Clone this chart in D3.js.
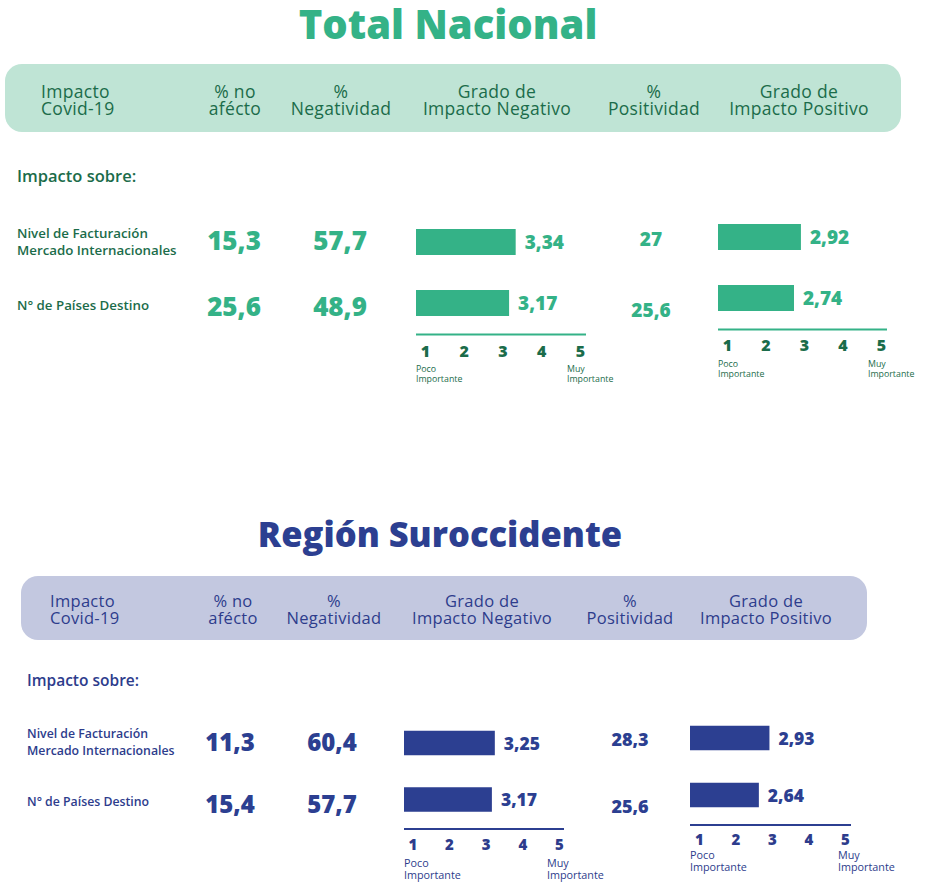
<!DOCTYPE html>
<html>
<head>
<meta charset="utf-8">
<script src="https://cdn.jsdelivr.net/npm/d3@7"></script>
<style>
body { margin: 0; background: #fff; }
text { font-family: "Open Sans", "Noto Sans", sans-serif; }
</style>
</head>
<body>
<div id="chart"></div>
<script>
// data
var firstHeader = ['Impacto', 'Covid-19'];
var headerLabels = [['% no', 'afécto'], ['%', 'Negatividad'], ['Grado de', 'Impacto Negativo'], ['%', 'Positividad'], ['Grado de', 'Impacto Positivo']];
var rowLabels = [['Nivel de Facturación', 'Mercado Internacionales'], ['N° de Países Destino']];
var gradeTicks = [1, 2, 3, 4, 5];
var gradeEnds = [['Poco', 'Importante'], ['Muy', 'Importante']];

var nacionalNoAfecto = [15.3, 25.6];
var nacionalNegatividad = [57.7, 48.9];
var nacionalGradoNeg = [3.34, 3.17];
var nacionalPositividad = [27, 25.6];
var nacionalGradoPos = [2.92, 2.74];

var regionNoAfecto = [11.3, 15.4];
var regionNegatividad = [60.4, 57.7];
var regionGradoNeg = [3.25, 3.17];
var regionPositividad = [28.3, 25.6];
var regionGradoPos = [2.93, 2.64];

var fmt = d3.formatLocale({decimal: ',', thousands: '.', grouping: [3], currency: ['$', '']}).format('~g');

var width = 925, height = 882;
var svg = d3.select('#chart').append('svg')
    .attr('width', width)
    .attr('height', height);

// layout of the two blocks
var sections = [
  {
    title: 'Total Nacional', titleX: 448, titleY: 39, titleSize: 40,
    main: '#34b287', text: '#1b6c4a', bg: '#bfe4d5',
    box: [5, 64, 896, 68], headY: [98, 115], headSize: 17.5, headX: [41, 235, 341, 497, 654, 799],
    sobreX: 17, sobreY: 182, sobreSize: 16.5,
    labelY: [238, 310], labelDy: 17, labelSize: 13.3,
    valX: [234, 340], valY: [250, 316], valSize: 26,
    negBarY: [242, 303], posBarY: [237, 298], barH: 26, barLabelSize: 19,
    pctX: 651, pctY: [246, 317], pctSize: 19,
    tickSize: 16,
    negAxis: {x0: 416, x1: 586, y: 334.5, t1: 425, t5: 580, tickY: 357, endY: 372, endSize: 8.8, muyX: 567},
    posAxis: {x0: 718, x1: 887, y: 329.5, t1: 727, t5: 881, tickY: 351, endY: 367, endSize: 8.8, muyX: 868},
    noAfecto: nacionalNoAfecto, negatividad: nacionalNegatividad, gradoNeg: nacionalGradoNeg,
    positividad: nacionalPositividad, gradoPos: nacionalGradoPos
  },
  {
    title: 'Región Suroccidente', titleX: 440, titleY: 547, titleSize: 34.5,
    main: '#2c3f91', text: '#2d3c8c', bg: '#c3c8e0',
    box: [21, 576, 846, 64], headY: [607, 623.5], headSize: 16.5, headX: [50, 233, 334, 482, 630, 766],
    sobreX: 27, sobreY: 686, sobreSize: 15.5,
    labelY: [738, 806], labelDy: 16.5, labelSize: 12.3,
    valX: [230, 332], valY: [750.5, 812.5], valSize: 24,
    negBarY: [743, 799.5], posBarY: [738, 795], barH: 24.5, barLabelSize: 17.5,
    pctX: 630, pctY: [746, 813], pctSize: 18,
    tickSize: 15,
    negAxis: {x0: 404, x1: 564, y: 829, t1: 412.3, t5: 559, tickY: 849.5, endY: 867, endSize: 10.8, muyX: 547},
    posAxis: {x0: 690, x1: 851, y: 825, t1: 699, t5: 845, tickY: 844.5, endY: 859, endSize: 10.8, muyX: 838},
    noAfecto: regionNoAfecto, negatividad: regionNegatividad, gradoNeg: regionGradoNeg,
    positividad: regionPositividad, gradoPos: regionGradoPos
  }
];

sections.forEach(function(s) {
  var g = svg.append('g');

  // title
  g.append('text')
      .attr('x', s.titleX).attr('y', s.titleY)
      .attr('text-anchor', 'middle')
      .style('font-size', s.titleSize + 'px')
      .style('font-weight', 800)
      .attr('fill', s.main)
      .text(s.title);

  // header band
  g.append('rect')
      .attr('x', s.box[0]).attr('y', s.box[1])
      .attr('width', s.box[2]).attr('height', s.box[3])
      .attr('rx', 17).attr('ry', 17)
      .attr('fill', s.bg);

  [firstHeader].concat(headerLabels).forEach(function(lines, i) {
    var t = g.append('text')
        .attr('text-anchor', i == 0 ? 'start' : 'middle')
        .style('font-size', s.headSize + 'px')
        .style('font-weight', 500)
        .style('letter-spacing', '0.3px')
        .attr('fill', s.text);
    lines.forEach(function(l, j) {
      t.append('tspan').attr('x', s.headX[i]).attr('y', s.headY[j]).text(l);
    });
  });

  g.append('text')
      .attr('x', s.sobreX).attr('y', s.sobreY)
      .style('font-size', s.sobreSize + 'px')
      .style('font-weight', 600)
      .attr('fill', s.text)
      .text('Impacto sobre:');

  // row labels
  rowLabels.forEach(function(lines, i) {
    var t = g.append('text')
        .style('font-size', s.labelSize + 'px')
        .style('font-weight', 600)
        .attr('fill', s.text);
    lines.forEach(function(l, j) {
      t.append('tspan').attr('x', s.sobreX).attr('y', s.labelY[i] + j * s.labelDy).text(l);
    });
  });

  // big numbers
  [s.noAfecto, s.negatividad].forEach(function(vals, c) {
    g.selectAll(null).data(vals).enter().append('text')
        .attr('x', s.valX[c])
        .attr('y', function(d, i) { return s.valY[i]; })
        .attr('text-anchor', 'middle')
        .style('font-size', s.valSize + 'px')
        .style('font-weight', 800)
        .attr('fill', s.main)
        .text(fmt);
  });

  g.selectAll(null).data(s.positividad).enter().append('text')
      .attr('x', s.pctX)
      .attr('y', function(d, i) { return s.pctY[i]; })
      .attr('text-anchor', 'middle')
      .style('font-size', s.pctSize + 'px')
      .style('font-weight', 800)
      .attr('fill', s.main)
      .text(fmt);

  // grade bars
  [[s.gradoNeg, s.negAxis, s.negBarY], [s.gradoPos, s.posAxis, s.posBarY]].forEach(function(p) {
    var vals = p[0], ax = p[1], ys = p[2];
    var x = d3.scaleLinear().domain([1, 5]).range([ax.t1, ax.t5]);

    g.selectAll(null).data(vals).enter().append('rect')
        .attr('x', ax.x0)
        .attr('y', function(d, i) { return ys[i] - s.barH / 2; })
        .attr('width', function(d) { return x(d) - ax.x0; })
        .attr('height', s.barH)
        .attr('fill', s.main);

    g.selectAll(null).data(vals).enter().append('text')
        .attr('x', function(d) { return x(d) + 9; })
        .attr('y', function(d, i) { return ys[i] + 6.5; })
        .style('font-size', s.barLabelSize + 'px')
        .style('font-weight', 800)
        .attr('fill', s.main)
        .text(fmt);

    var axis = g.append('g')
        .attr('transform', 'translate(0,' + ax.y + ')')
        .call(d3.axisBottom(x).tickValues(gradeTicks).tickSize(0).tickFormat(d3.format('d')));
    axis.select('.domain').remove();
    axis.selectAll('text')
        .attr('y', ax.tickY - ax.y)
        .attr('dy', 0)
        .style('font-family', '"Open Sans", "Noto Sans", sans-serif')
        .style('font-size', s.tickSize + 'px')
        .style('font-weight', 800)
        .attr('fill', s.text);

    g.append('line')
        .attr('x1', ax.x0).attr('x2', ax.x1)
        .attr('y1', ax.y).attr('y2', ax.y)
        .attr('stroke', s.main)
        .attr('stroke-width', 2);

    gradeEnds.forEach(function(lines, k) {
      var t = g.append('text')
          .style('font-size', ax.endSize + 'px')
          .style('font-weight', 500)
          .attr('fill', s.text);
      lines.forEach(function(l, j) {
        t.append('tspan')
            .attr('x', k == 0 ? ax.x0 : ax.muyX)
            .attr('y', ax.endY + j * ax.endSize * 1.08)
            .text(l);
      });
    });
  });
});
</script>
</body>
</html>
